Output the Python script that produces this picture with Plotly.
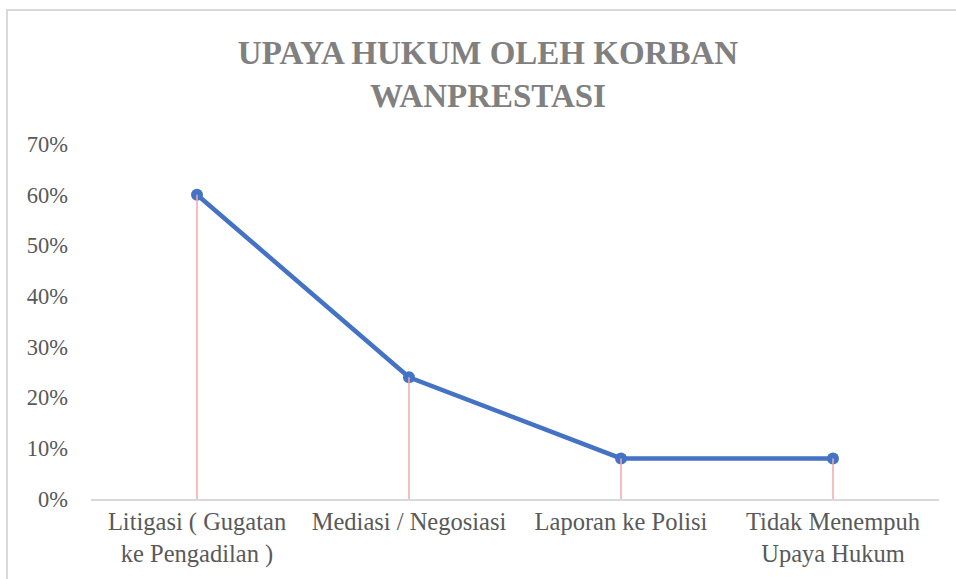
import plotly.graph_objects as go

categories = ["Litigasi ( Gugatan<br>ke Pengadilan )", "Mediasi / Negosiasi", "Laporan ke Polisi", "Tidak Menempuh<br>Upaya Hukum"]
values = [0.60, 0.24, 0.08, 0.08]
tick_vals = [0, 0.1, 0.2, 0.3, 0.4, 0.5, 0.6, 0.7]
tick_text = ["0%", "10%", "20%", "30%", "40%", "50%", "60%", "70%"]
title_text = "UPAYA HUKUM OLEH KORBAN<br>WANPRESTASI"

W, H = 956, 579
L, R, T, B = 91, 17, 144, 80
FONT = "Liberation Serif"

fig = go.Figure()

fig.add_trace(go.Scatter(
    x=categories, y=values, mode="lines+markers",
    line=dict(color="#4472C4", width=4.5),
    marker=dict(color="#4472C4", size=12),
    hoverinfo="skip", showlegend=False,
))

# drop lines from each point to the axis
dx, dy = [], []
for c, v in zip(categories, values):
    dx += [c, c, None]
    dy += [0, v, None]
fig.add_trace(go.Scatter(
    x=dx, y=dy, mode="lines",
    line=dict(color="#F0A8AC", width=1.5),
    hoverinfo="skip", showlegend=False,
))

# outer chart border
pw, ph = W - L - R, H - T - B
fig.add_shape(type="rect", xref="paper", yref="paper",
              x0=(7 - L) / pw, x1=1 + (R + 20) / pw,
              y0=-(B + 20) / ph, y1=1 + (T - 10) / ph,
              line=dict(color="#D9D9D9", width=2), fillcolor="rgba(0,0,0,0)", layer="below")

fig.update_layout(
    width=W, height=H,
    margin=dict(l=L, r=R, t=T, b=B),
    paper_bgcolor="white", plot_bgcolor="white",
    font=dict(family=FONT, color="#595959"),
    title=dict(text=title_text, x=488 / W, xanchor="center", xref="container",
               y=1 - 64 / H, yanchor="top", yref="container",
               font=dict(size=33, color="#808080", family=FONT, weight="bold")),
    xaxis=dict(type="category", showgrid=False, zeroline=False, showline=True,
               linecolor="#D9D9D9", linewidth=2, ticks="", tickfont=dict(size=24.5, color="#595959", family=FONT),
               range=[-0.5, len(categories) - 0.5], fixedrange=True),
    yaxis=dict(range=[0, 0.7], tickvals=tick_vals, ticktext=tick_text, showgrid=False,
               zeroline=False, showline=False, ticks="", ticklabelstandoff=22,
               tickfont=dict(size=22.5, color="#595959", family=FONT), fixedrange=True),
)

fig.write_html("out.html", config={"displayModeBar": False},
               post_script="document.body.style.margin='0';")
